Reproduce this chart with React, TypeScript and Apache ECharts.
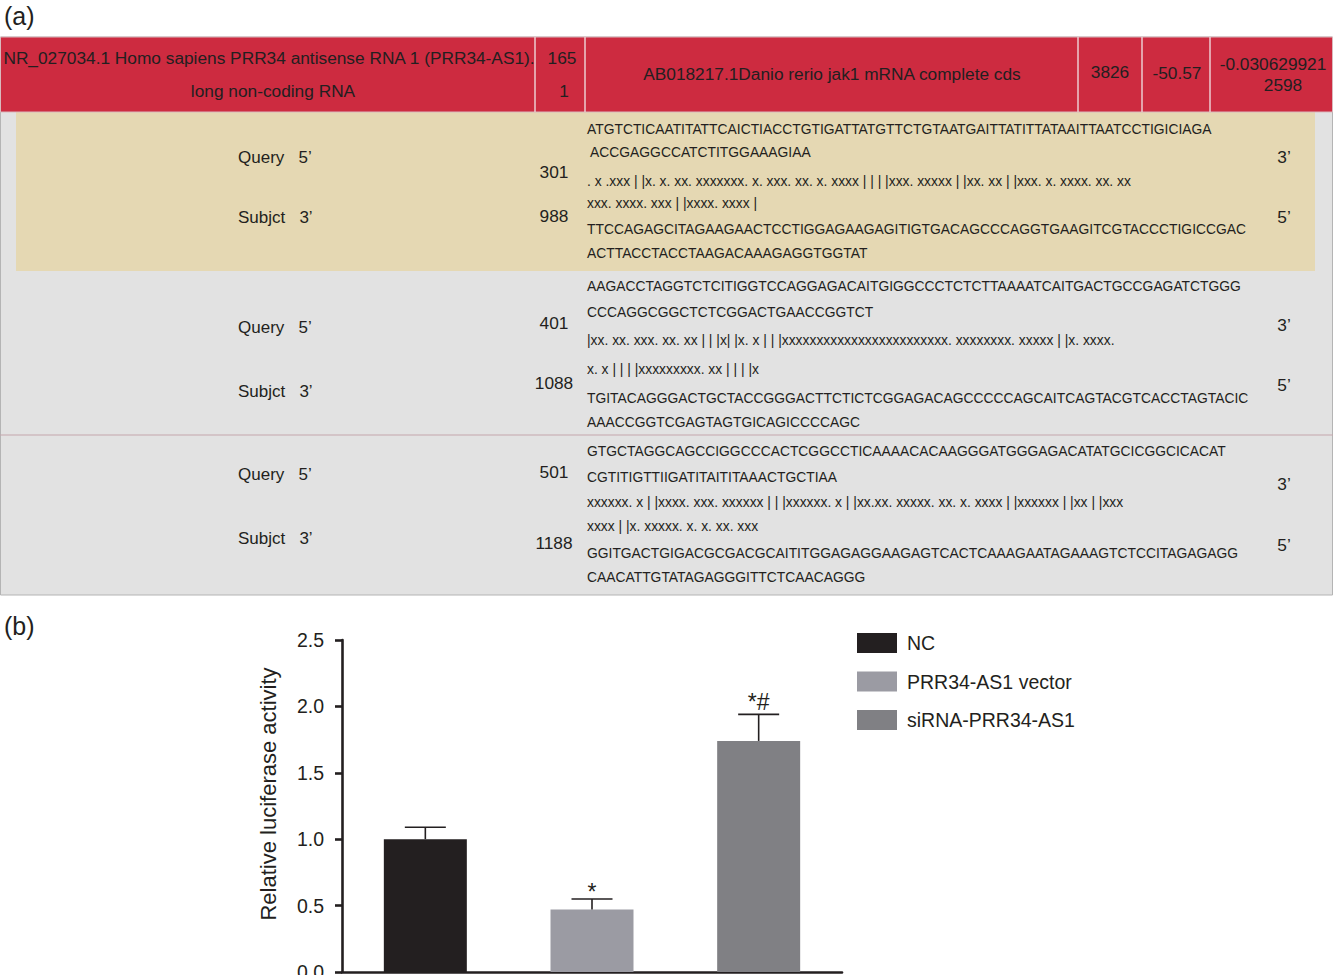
import React, { useEffect, useRef } from "react";
import * as echarts from "echarts";

// ---------- Part (a): table texts ----------
const headerQueryLines = [
  "NR_027034.1 Homo sapiens PRR34 antisense RNA 1 (PRR34-AS1).",
  "long non-coding RNA",
];
const headerQueryLength = ["165", "1"];
const headerSubject = "AB018217.1Danio rerio jak1 mRNA complete cds";
const headerSubjectLength = "3826";
const headerEnergy = "-50.57";
const headerPValue = ["-0.030629921", "2598"];

const queryLabel = "Query   5\u2019";
const subjectLabel = "Subjct   3\u2019";
const endQuery = "3\u2019";
const endSubject = "5\u2019";
const queryStarts = ["301", "401", "501"];
const subjectStarts = ["988", "1088", "1188"];

const block1Lines = [
  "ATGTCTICAATITATTCAICTIACCTGTIGATTATGTTCTGTAATGAITTATITTATAAITTAATCCTIGICIAGA",
  " ACCGAGGCCATCTITGGAAAGIAA",
  ". x .xxx | |x. x. xx. xxxxxxx. x. xxx. xx. x. xxxx | | | |xxx. xxxxx | |xx. xx | |xxx. x. xxxx. xx. xx",
  "xxx. xxxx. xxx | |xxxx. xxxx |",
  "TTCCAGAGCITAGAAGAACTCCTIGGAGAAGAGITIGTGACAGCCCAGGTGAAGITCGTACCCTIGICCGAC",
  "ACTTACCTACCTAAGACAAAGAGGTGGTAT",
];
const block2Lines = [
  "AAGACCTAGGTCTCITIGGTCCAGGAGACAITGIGGCCCTCTCTTAAAATCAITGACTGCCGAGATCTGGG",
  "CCCAGGCGGCTCTCGGACTGAACCGGTCT",
  "|xx. xx. xxx. xx. xx | | |x| |x. x | | |xxxxxxxxxxxxxxxxxxxxxxxx. xxxxxxxx. xxxxx | |x. xxxx.",
  "x. x | | | |xxxxxxxxx. xx | | | |x",
  "TGITACAGGGACTGCTACCGGGACTTCTICTCGGAGACAGCCCCCAGCAITCAGTACGTCACCTAGTACIC",
  "AAACCGGTCGAGTAGTGICAGICCCCAGC",
];
const block3Lines = [
  "GTGCTAGGCAGCCIGGCCCACTCGGCCTICAAAACACAAGGGATGGGAGACATATGCICGGCICACAT",
  "CGTITIGTTIIGATITAITITAAACTGCTIAA",
  "xxxxxx. x | |xxxx. xxx. xxxxxx | | |xxxxxx. x | |xx.xx. xxxxx. xx. x. xxxx | |xxxxxx | |xx | |xxx",
  "xxxx | |x. xxxxx. x. x. xx. xxx",
  "GGITGACTGIGACGCGACGCAITITGGAGAGGAAGAGTCACTCAAAGAATAGAAAGTCTCCITAGAGAGG",
  "CAACATTGTATAGAGGGITTCTCAACAGGG",
];
const blockLines = [block1Lines, block2Lines, block3Lines];

// ---------- Part (b): bar chart data ----------
const categories = ["NC", "PRR34-AS1 vector", "siRNA-PRR34-AS1"];
const meanValues = [1.0, 0.47, 1.74];
const errorValues = [0.09, 0.08, 0.2];
const significance = ["", "*", "*#"];
const panelLabels = ["(a)", "(b)"];
const yAxisTitle = "Relative luciferase activity";

// ---------- Layout / style ----------
const FONT = "'Liberation Sans', Arial, Helvetica, sans-serif";
const INK = "#231f20";
const RED = "#cd2b40";
const TAN = "#e5d8b3";
const GRAY = "#e2e2e2";
const barColors = ["#231f20", "#9b9ba3", "#808084"];

const lineYs = [
  [129, 152, 181, 203, 229, 253],
  [286, 312, 340, 369, 398, 422],
  [451, 477, 502, 526, 553, 577],
];
const queryYs = [157, 327, 474];
const subjectYs = [217, 391, 538];
const qNumYs = [172, 323, 472];
const sNumYs = [216, 383, 543];
const endQYs = [157, 325, 484];
const endSYs = [217, 385, 545];

function txt(text: string, x: number, y: number, size: number, align = "left", extra: any = {}) {
  return {
    type: "text",
    silent: true,
    z: 10,
    ...extra,
    style: {
      text,
      x,
      y,
      fontSize: size,
      fontFamily: FONT,
      fill: INK,
      align,
      textAlign: align,
      verticalAlign: "middle",
      textVerticalAlign: "middle",
    },
  };
}

function buildGraphics() {
  const els: any[] = [];
  // panel labels
  els.push(txt(panelLabels[0], 4, 16, 25));
  els.push(txt(panelLabels[1], 4, 626, 25));
  // body background
  els.push({ type: "rect", silent: true, z: 1, shape: { x: 0.5, y: 37, width: 1332, height: 558 }, style: { fill: GRAY, stroke: "#b4b4b4", lineWidth: 1 } });
  // tan block
  els.push({ type: "rect", silent: true, z: 2, shape: { x: 16, y: 112, width: 1299, height: 159 }, style: { fill: TAN } });
  // header row
  els.push({ type: "rect", silent: true, z: 2, shape: { x: 0.5, y: 37, width: 1332, height: 75 }, style: { fill: RED, stroke: "#d9b9bd", lineWidth: 1 } });
  [535, 585, 1078, 1142, 1210].forEach((x) => {
    els.push({ type: "line", silent: true, z: 3, shape: { x1: x, y1: 37, x2: x, y2: 112 }, style: { stroke: "#eccdd1", lineWidth: 1.5 } });
  });
  // divider between blocks 2 and 3
  els.push({ type: "line", silent: true, z: 3, shape: { x1: 0, y1: 435, x2: 1333, y2: 435 }, style: { stroke: "#c3a5ac", lineWidth: 1.2 } });

  // header texts
  els.push(txt(headerQueryLines[0], 269, 58, 17.3, "center"));
  els.push(txt(headerQueryLines[1], 273, 91, 17.3, "center"));
  els.push(txt(headerQueryLength[0], 562, 58, 17.3, "center"));
  els.push(txt(headerQueryLength[1], 564, 91, 17.3, "center"));
  els.push(txt(headerSubject, 832, 74, 17.3, "center"));
  els.push(txt(headerSubjectLength, 1110, 72, 17.3, "center"));
  els.push(txt(headerEnergy, 1177, 73, 17.3, "center"));
  els.push(txt(headerPValue[0], 1273, 64, 17.3, "center"));
  els.push(txt(headerPValue[1], 1283, 85, 17.3, "center"));

  // alignment blocks
  blockLines.forEach((lines, b) => {
    els.push(txt(queryLabel, 238, queryYs[b], 17));
    els.push(txt(subjectLabel, 238, subjectYs[b], 17));
    els.push(txt(queryStarts[b], 554, qNumYs[b], 17.3, "center"));
    els.push(txt(subjectStarts[b], 554, sNumYs[b], 17.3, "center"));
    els.push(txt(endQuery, 1284, endQYs[b], 17.3, "center"));
    els.push(txt(endSubject, 1284, endSYs[b], 17.3, "center"));
    lines.forEach((l, k) => {
      els.push(txt(l, 587, lineYs[b][k], 14, "left", { originX: 587, scaleX: 0.99 }));
    });
  });
  return els;
}

export default function App() {
  const ref = useRef<HTMLDivElement>(null);
  useEffect(() => {
    if (!ref.current) return;
    const chart = echarts.init(ref.current, null, { renderer: "svg", width: 1333, height: 975 });

    const barSeries = categories.map((name, i) => ({
      type: "bar",
      name,
      data: categories.map((_, j) => (j === i ? meanValues[i] : "-")),
      barWidth: 83,
      barGap: "-100%",
      itemStyle: { color: barColors[i] },
      silent: true,
      z: 2,
    }));

    const errorSeries = {
      type: "custom",
      name: "error",
      z: 5,
      silent: true,
      data: categories.map((_, i) => [i, meanValues[i], errorValues[i]]),
      renderItem: (params: any, api: any) => {
        const i = api.value(0);
        const v = api.value(1);
        const e = api.value(2);
        const base = api.coord([i, v]);
        const top = api.coord([i, v + e]);
        const half = 20.5;
        const st = { stroke: INK, lineWidth: 1.6 };
        const children: any[] = [
          { type: "line", shape: { x1: base[0], y1: base[1], x2: top[0], y2: top[1] }, style: st },
          { type: "line", shape: { x1: top[0] - half, y1: top[1], x2: top[0] + half, y2: top[1] }, style: st },
        ];
        const mark = significance[params.dataIndex];
        if (mark) {
          children.push({
            type: "text",
            style: {
              text: mark,
              x: top[0],
              y: top[1] + (mark.length > 1 ? -1 : 5),
              align: "center",
              textAlign: "center",
              verticalAlign: "bottom",
              textVerticalAlign: "bottom",
              fontSize: 23,
              fontFamily: FONT,
              fill: INK,
            },
          });
        }
        return { type: "group", children };
      },
    };

    chart.setOption({
      animation: false,
      backgroundColor: "#ffffff",
      textStyle: { fontFamily: FONT },
      graphic: buildGraphics(),
      grid: { left: 342, top: 640, width: 500, height: 332, containLabel: false, outerBoundsMode: "none" },
      legend: {
        data: categories,
        orient: "vertical",
        left: 852,
        top: 628,
        icon: "rect",
        itemWidth: 40,
        itemHeight: 20,
        itemGap: 18.5,
        selectedMode: false,
        textStyle: { fontSize: 19.5, color: INK, fontFamily: FONT, padding: [0, 0, 0, 5] },
      },
      xAxis: {
        type: "category",
        data: categories,
        axisLine: { lineStyle: { color: INK, width: 2.6 } },
        axisTick: { show: false },
        axisLabel: { show: false },
        splitLine: { show: false },
      },
      yAxis: {
        type: "value",
        min: 0,
        max: 2.5,
        interval: 0.5,
        name: yAxisTitle,
        nameLocation: "middle",
        nameRotate: 90,
        nameGap: 63,
        nameTextStyle: { fontSize: 22, color: INK, fontFamily: FONT, padding: [0, 0, 0, 24] },
        axisLine: { show: true, lineStyle: { color: INK, width: 2.6 } },
        axisTick: { show: true, inside: false, length: 7, lineStyle: { color: INK, width: 2.6 } },
        axisLabel: {
          fontSize: 19.5,
          color: INK,
          fontFamily: FONT,
          margin: 18,
          formatter: (v: number) => v.toFixed(1),
        },
        splitLine: { show: false },
      },
      series: [...barSeries, errorSeries],
    });
    return () => chart.dispose();
  }, []);
  return (
    <div
      ref={ref}
      style={{ position: "absolute", left: 0, top: 0, width: 1333, height: 975, background: "#fff" }}
    />
  );
}
